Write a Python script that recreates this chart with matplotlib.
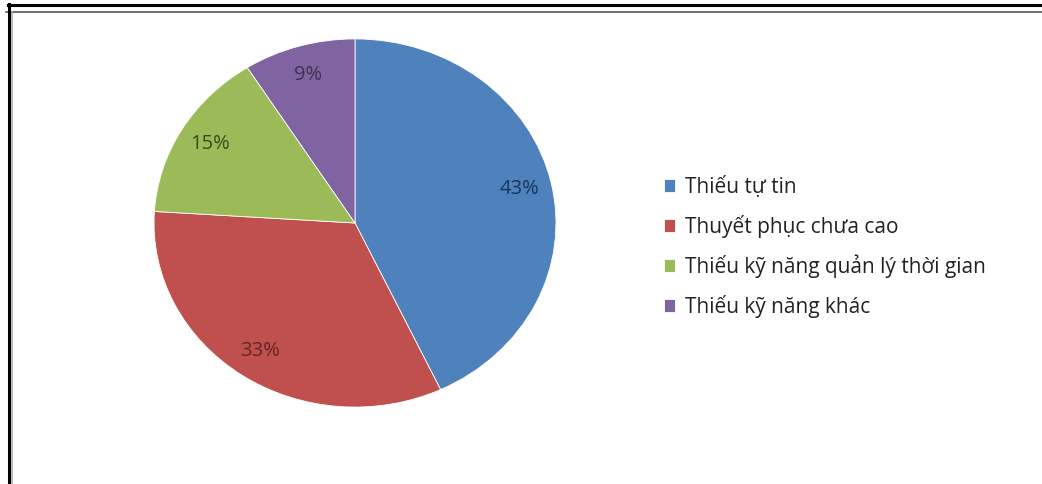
import matplotlib.pyplot as plt
from matplotlib.lines import Line2D

plt.rcParams['font.family'] = ['Open Sans', 'DejaVu Sans']

labels = ["Thiếu tự tin", "Thuyết phục chưa cao",
          "Thiếu kỹ năng quản lý thời gian", "Thiếu kỹ năng khác"]
shares = [43, 33, 15, 9]
colors = ["#4F81BD", "#C0504D", "#9BBB59", "#8064A2"]
text_colors = ["#17375E", "#632523", "#3B4A1C", "#3F3151"]

W, H = 1042, 484
fig = plt.figure(figsize=(W / 100, H / 100), dpi=100)
fig.patch.set_facecolor("white")

# pie area (stretched a little wider than tall)
ax = fig.add_axes([153 / W, 1 - 408 / H, 404 / W, 370 / H])
wedges, texts, autotexts = ax.pie(
    shares, colors=colors, startangle=90, counterclock=False,
    autopct="%d%%", pctdistance=0.84,
    wedgeprops=dict(linewidth=0.6, edgecolor="white"),
    textprops=dict(fontsize=14.5),
)
for t, c in zip(autotexts, text_colors):
    t.set_color(c)
ax.set_aspect("auto")
ax.set_xlim(-1.005, 1.005)
ax.set_ylim(-1.005, 1.005)

leg = fig.legend(wedges, labels, loc="upper left",
                 bbox_to_anchor=(664 / W, 1 - 176 / H),
                 frameon=False, fontsize=15, handlelength=0.55,
                 handleheight=0.6, handletextpad=0.45, labelspacing=0.8,
                 borderpad=0, borderaxespad=0)
for t in leg.get_texts():
    t.set_color("#222222")

# frame lines around the picture
fig.add_artist(Line2D([8 / W, 1], [1 - 4.5 / H] * 2, color="black", lw=2.2))
fig.add_artist(Line2D([6 / W, 1], [1 - 11.5 / H] * 2, color="#555555", lw=1.2))
fig.add_artist(Line2D([9 / W] * 2, [0, 1 - 4 / H], color="black", lw=2.2))
fig.add_artist(Line2D([12 / W] * 2, [0, 1 - 12 / H], color="#aaaaaa", lw=1.2))

fig.savefig("out.png", dpi=100)
